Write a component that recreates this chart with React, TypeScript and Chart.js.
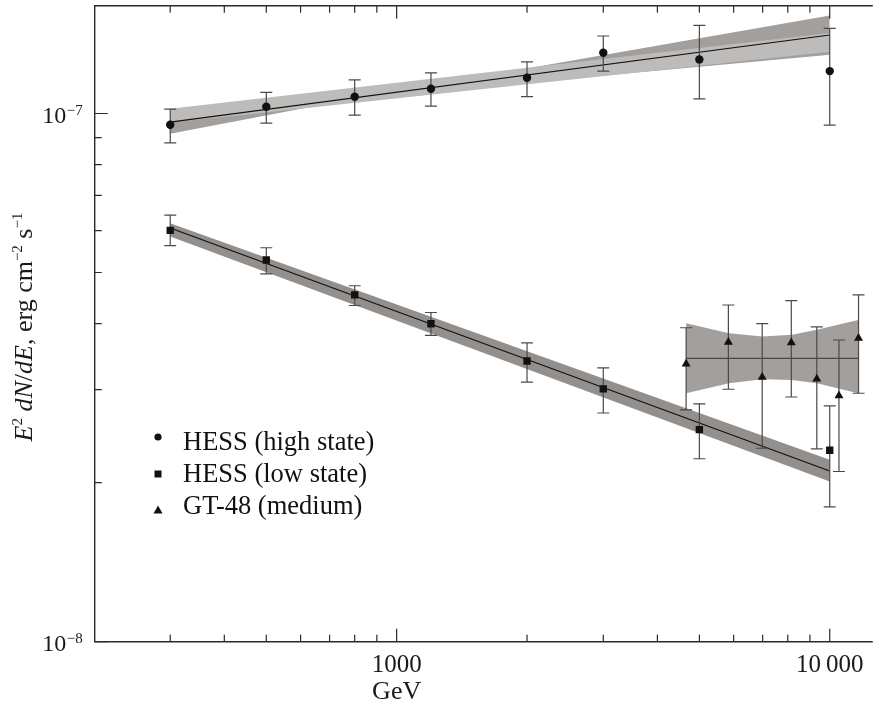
import React, { useEffect, useRef } from "react";
import { Chart, registerables } from "chart.js";

Chart.register(...registerables);

// ---------- data ----------
const energies = [300, 500, 800, 1200, 2000, 3000, 5000, 10000];

const highVal = [9.52e-8, 1.03e-7, 1.076e-7, 1.114e-7, 1.169e-7, 1.303e-7, 1.266e-7, 1.203e-7];
const highLo = [8.8e-8, 9.59e-8, 9.93e-8, 1.033e-7, 1.076e-7, 1.203e-7, 1.066e-7, 9.51e-8];
const highHi = [1.019e-7, 1.097e-7, 1.158e-7, 1.194e-7, 1.253e-7, 1.402e-7, 1.468e-7, 1.449e-7];

const lowVal = [6.01e-8, 5.28e-8, 4.535e-8, 4.0e-8, 3.4e-8, 3.01e-8, 2.52e-8, 2.304e-8];
const lowLo = [5.62e-8, 4.97e-8, 4.33e-8, 3.8e-8, 3.1e-8, 2.71e-8, 2.22e-8, 1.8e-8];
const lowHi = [6.42e-8, 5.57e-8, 4.72e-8, 4.2e-8, 3.68e-8, 3.3e-8, 2.82e-8, 2.796e-8];

const gtEnergies = [4660, 5834, 6983, 8152, 9335, 10503, 11655];
const gtVal = [3.357e-8, 3.69e-8, 3.167e-8, 3.683e-8, 3.144e-8, 2.923e-8, 3.755e-8];
const gtLo = [2.747e-8, 3.006e-8, 2.324e-8, 2.906e-8, 2.317e-8, 2.1e-8, 2.954e-8];
const gtHi = [3.93e-8, 4.34e-8, 4.0e-8, 4.423e-8, 3.945e-8, 3.726e-8, 4.535e-8];

// fits and confidence bands
const fitEnergies = [300, 10000];
const highFit = [9.63e-8, 1.408e-7];
const highBandLightHi = [1.0207e-7, 1.42e-7];
const highBandLightLo = [9.603e-8, 1.3086e-7];
const highBowtieEnergies = [300, 800, 10000];
const highBowtieHi = [1.0074e-7, 1.0671e-7, 1.533e-7];
const highBowtieLo = [9.153e-8, 1.0671e-7, 1.2915e-7];

const lowFit = [6.07e-8, 2.105e-8];
const lowBandHi = [6.2e-8, 2.21e-8];
const lowBandLo = [5.85e-8, 2.01e-8];

const gtFitEnergies = [4660, 11655];
const gtFit = [3.44e-8, 3.44e-8];
const gtBandEnergies = [4660, 5853, 6983, 8178, 9337, 11630];
const gtBandHi = [4.009e-8, 3.838e-8, 3.784e-8, 3.81e-8, 3.894e-8, 4.067e-8];
const gtBandLo = [2.954e-8, 3.086e-8, 3.141e-8, 3.131e-8, 3.086e-8, 2.954e-8];

// axes
const xMin = 200.8;
const xMax = 12440;
const yMin = 1e-8;
const yMax = 1.6e-7;
const xMajorTicks = [1000, 10000];
const xTickLabels = ["1000", "10\u2009000"];
const xMinorTicks = [300, 400, 500, 600, 700, 800, 900, 2000, 3000, 4000, 5000, 6000, 7000, 8000, 9000];
const yMajorTicks = [1e-8, 1e-7];
const yTickExponents = ["\u22128", "\u22127"];
const yMinorTicks = [2e-8, 3e-8, 4e-8, 5e-8, 6e-8, 7e-8, 8e-8, 9e-8];

const legendLabels = ["HESS (high state)", "HESS (low state)", "GT-48 (medium)"];
const xTitle = "GeV";

const SERIF = '"Liberation Serif", "Times New Roman", serif';
const AXIS = "#2a2a2a";

const pts = (xs: number[], ys: number[]) => xs.map((x, i) => ({ x, y: ys[i] }));

const bandPair = (xs: number[], hi: number[], lo: number[], color: string, order: number) => [
  {
    data: pts(xs, hi),
    borderColor: "rgba(0,0,0,0)",
    borderWidth: 0,
    pointRadius: 0,
    backgroundColor: color,
    fill: "+1",
    order,
  },
  {
    data: pts(xs, lo),
    borderColor: "rgba(0,0,0,0)",
    borderWidth: 0,
    pointRadius: 0,
    fill: false,
    order,
  },
];

const errorBarPlugin = {
  id: "errorBars",
  beforeDatasetDraw(chart: any, args: any) {
    const ds: any = chart.data.datasets[args.index];
    if (!ds.errLo) return;
    const ctx = chart.ctx;
    const xs = chart.scales.x;
    const ys = chart.scales.y;
    ctx.save();
    ctx.strokeStyle = "#4a4a4a";
    ctx.lineWidth = 1.2;
    ds.data.forEach((p: any, i: number) => {
      const px = xs.getPixelForValue(p.x);
      const y1 = ys.getPixelForValue(ds.errLo[i]);
      const y2 = ys.getPixelForValue(ds.errHi[i]);
      ctx.beginPath();
      ctx.moveTo(px, y1);
      ctx.lineTo(px, y2);
      ctx.moveTo(px - 6, y1);
      ctx.lineTo(px + 6, y1);
      ctx.moveTo(px - 6, y2);
      ctx.lineTo(px + 6, y2);
      ctx.stroke();
    });
    ctx.restore();
  },
};

const axesPlugin = {
  id: "axesDecor",
  afterDraw(chart: any) {
    const ctx = chart.ctx;
    const { left, right, top, bottom } = chart.chartArea;
    const xs = chart.scales.x;
    const ys = chart.scales.y;
    ctx.save();
    ctx.strokeStyle = AXIS;
    ctx.lineWidth = 1.4;
    ctx.beginPath();
    ctx.moveTo(right + 2, top);
    ctx.lineTo(left, top);
    ctx.lineTo(left, bottom);
    ctx.lineTo(right + 2, bottom);
    ctx.stroke();

    ctx.lineWidth = 1.2;
    ctx.beginPath();
    const xTick = (v: number, len: number) => {
      const px = xs.getPixelForValue(v);
      ctx.moveTo(px, bottom);
      ctx.lineTo(px, bottom - len);
      ctx.moveTo(px, top);
      ctx.lineTo(px, top + len);
    };
    xMinorTicks.forEach((v) => xTick(v, 7));
    xMajorTicks.forEach((v) => xTick(v, 13));
    const yTick = (v: number, len: number) => {
      const py = ys.getPixelForValue(v);
      ctx.moveTo(left, py);
      ctx.lineTo(left + len, py);
    };
    yMinorTicks.forEach((v) => yTick(v, 7));
    yMajorTicks.forEach((v) => yTick(v, 13));
    ctx.stroke();

    // tick labels
    ctx.fillStyle = "#1a1a1a";
    ctx.textBaseline = "alphabetic";
    ctx.font = `25px ${SERIF}`;
    ctx.textAlign = "center";
    xMajorTicks.forEach((v, i) => {
      ctx.fillText(xTickLabels[i], xs.getPixelForValue(v), bottom + 30);
    });
    yMajorTicks.forEach((v, i) => {
      const py = ys.getPixelForValue(v);
      ctx.font = `15px ${SERIF}`;
      const ew = ctx.measureText(yTickExponents[i]).width;
      ctx.textAlign = "left";
      const expX = left - 12 - ew;
      ctx.fillText(yTickExponents[i], expX, py + 1);
      ctx.font = `24px ${SERIF}`;
      ctx.textAlign = "right";
      ctx.fillText("10", expX - 0.5, py + 9);
    });

    // x title
    ctx.font = `26px ${SERIF}`;
    ctx.textAlign = "center";
    ctx.fillText(xTitle, xs.getPixelForValue(1000), 699);

    // y title (rotated)
    const pieces: { t: string; f: string; sup?: boolean }[] = [
      { t: "E", f: `italic 26px ${SERIF}` },
      { t: "2", f: `15px ${SERIF}`, sup: true },
      { t: " ", f: `26px ${SERIF}` },
      { t: "dN", f: `italic 26px ${SERIF}` },
      { t: "/", f: `26px ${SERIF}` },
      { t: "dE", f: `italic 26px ${SERIF}` },
      { t: ", erg cm", f: `26px ${SERIF}` },
      { t: "\u22122", f: `15px ${SERIF}`, sup: true },
      { t: " s", f: `26px ${SERIF}` },
      { t: "\u22121", f: `15px ${SERIF}`, sup: true },
    ];
    let total = 0;
    const widths = pieces.map((p) => {
      ctx.font = p.f;
      const w = ctx.measureText(p.t).width;
      total += w;
      return w;
    });
    ctx.save();
    ctx.translate(32, 327);
    ctx.rotate(-Math.PI / 2);
    ctx.textAlign = "left";
    let cx = -total / 2;
    pieces.forEach((p, i) => {
      ctx.font = p.f;
      ctx.fillText(p.t, cx, p.sup ? -10 : 0);
      cx += widths[i];
    });
    ctx.restore();

    // legend
    const lx = 158;
    const rows = [437, 474, 510];
    const baselines = [449.5, 481.5, 513.5];
    ctx.fillStyle = "#111";
    ctx.beginPath();
    ctx.arc(lx, rows[0], 3.6, 0, Math.PI * 2);
    ctx.fill();
    ctx.fillRect(lx - 3.5, rows[1] - 3.5, 7, 7);
    ctx.beginPath();
    ctx.moveTo(lx, rows[2] - 4.5);
    ctx.lineTo(lx + 4.5, rows[2] + 3.5);
    ctx.lineTo(lx - 4.5, rows[2] + 3.5);
    ctx.closePath();
    ctx.fill();
    ctx.font = `26.5px ${SERIF}`;
    ctx.textAlign = "left";
    legendLabels.forEach((t, i) => ctx.fillText(t, 183, baselines[i]));
    ctx.restore();
  },
};

export default function App() {
  const canvasRef = useRef<HTMLCanvasElement | null>(null);

  useEffect(() => {
    const canvas = canvasRef.current;
    if (!canvas) return;
    const datasets: any[] = [
      ...bandPair(highBowtieEnergies, highBowtieHi, highBowtieLo, "#a29f9d", 12),
      ...bandPair(fitEnergies, highBandLightHi, highBandLightLo, "#bebcba", 11),
      ...bandPair(fitEnergies, lowBandHi, lowBandLo, "#928f8d", 11),
      ...bandPair(gtBandEnergies, gtBandHi, gtBandLo, "#a29f9d", 11),
      {
        data: pts(fitEnergies, highFit),
        borderColor: "#111",
        borderWidth: 1.2,
        pointRadius: 0,
        fill: false,
        order: 5,
      },
      {
        data: pts(fitEnergies, lowFit),
        borderColor: "#111",
        borderWidth: 1.2,
        pointRadius: 0,
        fill: false,
        order: 5,
      },
      {
        data: pts(gtFitEnergies, gtFit),
        borderColor: "#333",
        borderWidth: 1,
        pointRadius: 0,
        fill: false,
        order: 5,
      },
      {
        label: legendLabels[0],
        data: pts(energies, highVal),
        errLo: highLo,
        errHi: highHi,
        showLine: false,
        pointStyle: "circle",
        pointRadius: 4.2,
        backgroundColor: "#111",
        borderColor: "#111",
        borderWidth: 0,
        order: 1,
      },
      {
        label: legendLabels[1],
        data: pts(energies, lowVal),
        errLo: lowLo,
        errHi: lowHi,
        showLine: false,
        pointStyle: "rect",
        pointRadius: 5.2,
        backgroundColor: "#111",
        borderColor: "#111",
        borderWidth: 0,
        order: 1,
      },
      {
        label: legendLabels[2],
        data: pts(gtEnergies, gtVal),
        errLo: gtLo,
        errHi: gtHi,
        showLine: false,
        pointStyle: "triangle",
        pointRadius: 5.2,
        backgroundColor: "#111",
        borderColor: "#111",
        borderWidth: 0,
        order: 1,
      },
    ];

    const chart = new Chart(canvas, {
      type: "line",
      data: { datasets },
      options: {
        responsive: false,
        maintainAspectRatio: false,
        animation: false,
        layout: { padding: { left: 94.7, right: 0, top: 5.7, bottom: 62.3 } },
        elements: { line: { tension: 0 } },
        scales: {
          x: { type: "logarithmic", min: xMin, max: xMax, display: false },
          y: { type: "logarithmic", min: yMin, max: yMax, display: false },
        },
        plugins: {
          legend: { display: false },
          tooltip: { enabled: false },
        },
      },
      plugins: [errorBarPlugin, axesPlugin],
    } as any);
    return () => chart.destroy();
  }, []);

  return (
    <div style={{ position: "fixed", left: 0, top: 0, width: 876, height: 704, background: "#fff" }}>
      <canvas ref={canvasRef} width={876} height={704} style={{ width: 876, height: 704, display: "block" }} />
    </div>
  );
}
